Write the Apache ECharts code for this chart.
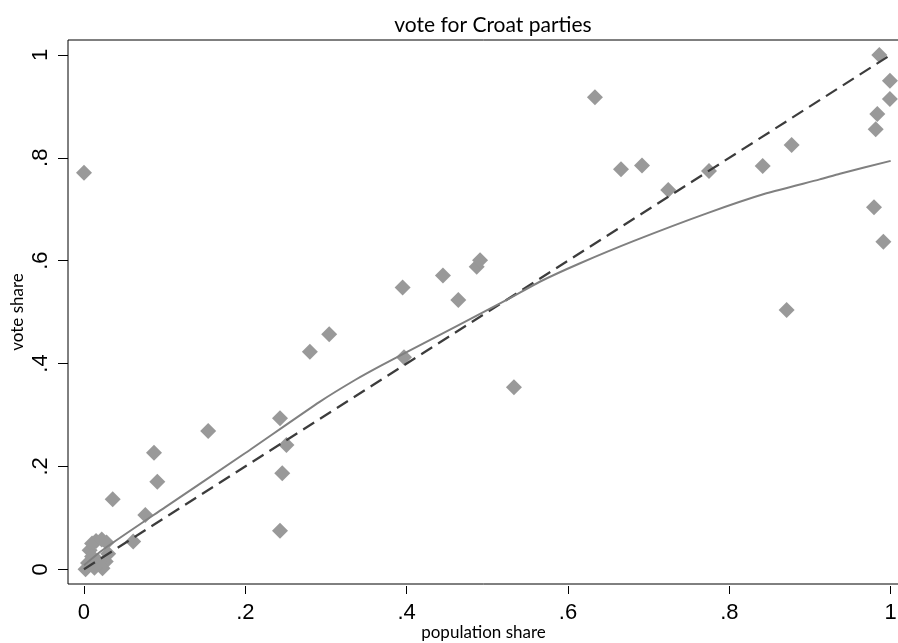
<!DOCTYPE html>
<html><head><meta charset="utf-8">
<script src="https://cdn.jsdelivr.net/npm/echarts@6/dist/echarts.min.js"></script>
<style>html,body{margin:0;padding:0;background:#fff}#c{width:898px;height:643px}</style>
</head><body><div id="c"></div>
<script>
const titleText = 'vote for Croat parties';
const xName = 'population share';
const yName = 'vote share';
const tickValues = [0, 0.2, 0.4, 0.6, 0.8, 1];

// scatter: population share (x) and vote share (y)
const popShare = [
  0.002, 0.005, 0.007, 0.010, 0.015, 0.022, 0.028, 0.030, 0.027, 0.023, 0.013, 0.010, 0.018,
  0.000, 0.0356, 0.076, 0.061, 0.0868, 0.0909, 0.154,
  0.243, 0.251, 0.2458, 0.243, 0.280, 0.304,
  0.395, 0.3967, 0.445, 0.464, 0.4868, 0.491, 0.533,
  0.6334, 0.6657, 0.6917, 0.7243, 0.7748, 0.8413, 0.8772, 0.871,
  0.9859, 0.9991, 0.999, 0.9834, 0.9814, 0.9793, 0.9909
];
const voteShare = [
  0.000, 0.012, 0.037, 0.050, 0.055, 0.058, 0.052, 0.030, 0.015, 0.002, 0.003, 0.025, 0.015,
  0.771, 0.136, 0.1056, 0.054, 0.2267, 0.170, 0.269,
  0.2936, 0.2417, 0.1866, 0.075, 0.423, 0.457,
  0.548, 0.412, 0.571, 0.5236, 0.588, 0.601, 0.354,
  0.9177, 0.7777, 0.7848, 0.7375, 0.7745, 0.7842, 0.825, 0.504,
  1.000, 0.950, 0.9145, 0.8853, 0.8555, 0.7039, 0.637
];

// smoothed fit (solid grey)
const fitX = [0, 0.026, 0.1, 0.2, 0.2926, 0.336, 0.367, 0.4, 0.524, 0.565, 0.615, 0.681, 0.772, 0.846, 0.912, 0.937, 1.0];
const fitY = [0.008, 0.041, 0.12, 0.226, 0.326, 0.368, 0.395, 0.422, 0.5236, 0.559, 0.595, 0.638, 0.692, 0.731, 0.758, 0.769, 0.794];

// 45-degree reference line (dashed)
const diagX = [0, 1];
const diagY = [0, 1];

const zip = (a, b) => a.map((v, i) => [v, b[i]]);
const fmt = v => (v === 0 ? '0' : v === 1 ? '1' : String(+v.toFixed(1)).replace('0.', '.'));

const chart = echarts.init(document.getElementById('c'), null, {renderer: 'canvas'});
chart.setOption({
  animation: false,
  backgroundColor: '#fff',
  title: {
    text: titleText, left: 488, top: 10, textAlign: 'center',
    textStyle: {fontFamily: 'Lato', fontWeight: 'normal', fontSize: 21, color: '#000'}
  },
  grid: {left: 68, top: 40, right: -1, bottom: 59, outerBoundsMode: 'none', containLabel: false,
    show: true, borderColor: '#000', borderWidth: 1, backgroundColor: 'transparent'},
  xAxis: {
    type: 'value', min: -0.0198, max: 1.0103, offset: 2,
    name: xName, nameLocation: 'middle', nameGap: 38, nameMoveOverlap: false,
    nameTextStyle: {fontFamily: 'Lato', fontSize: 17, color: '#000'},
    axisLine: {show: false, onZero: false},
    axisTick: {show: true, customValues: tickValues, length: 8, lineStyle: {color: '#000', width: 1}},
    axisLabel: {customValues: tickValues, formatter: fmt, margin: 16, fontFamily: 'Liberation Sans', fontSize: 22, color: '#000'},
    splitLine: {show: false}
  },
  yAxis: {
    type: 'value', min: -0.0286, max: 1.029,
    name: yName, nameLocation: 'middle', nameGap: 42, nameRotate: 90, nameMoveOverlap: false,
    nameTextStyle: {fontFamily: 'Lato', fontSize: 17, color: '#000'},
    axisLine: {show: false, onZero: false},
    axisTick: {show: true, customValues: tickValues, length: 10, lineStyle: {color: '#000', width: 1}},
    axisLabel: {customValues: tickValues, formatter: fmt, rotate: 90, margin: 16, fontFamily: 'Liberation Sans', fontSize: 22, color: '#000'},
    splitLine: {show: false}
  },
  series: [
    {
      type: 'scatter', data: zip(popShare, voteShare), symbol: 'diamond', symbolSize: 16,
      itemStyle: {color: '#999999', opacity: 1}, z: 2
    },
    {
      type: 'line', data: zip(diagX, diagY), showSymbol: false, symbol: 'none',
      lineStyle: {color: '#3c3c3c', width: 2.2, type: [13, 7]}, z: 3
    },
    {
      type: 'line', data: zip(fitX, fitY), showSymbol: false, symbol: 'none', smooth: 0.2,
      lineStyle: {color: '#808080', width: 2}, z: 4
    }
  ]
});
</script>
</body></html>
